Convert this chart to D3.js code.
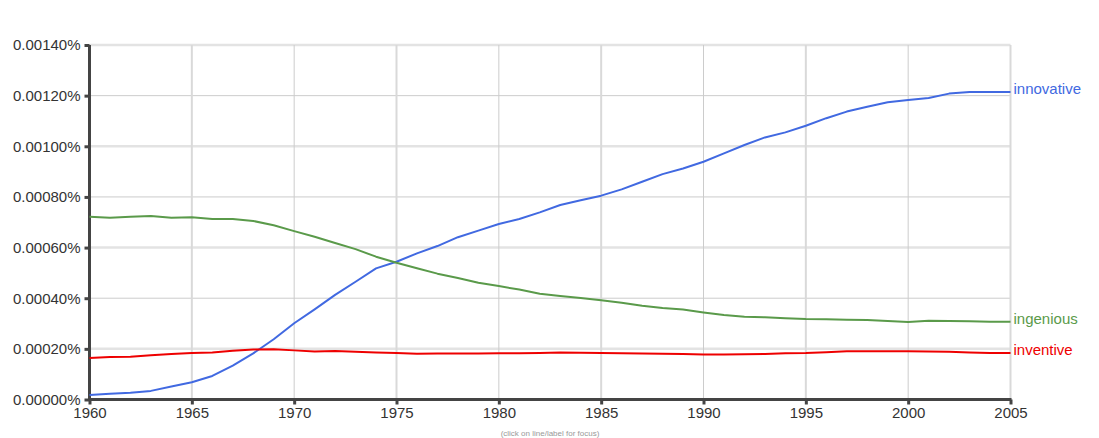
<!DOCTYPE html>
<html><head><meta charset="utf-8">
<script src="https://cdn.jsdelivr.net/npm/d3@7"></script>
<style>body{margin:0;background:#fff;}svg{display:block;font-family:"Liberation Sans",Arial,Helvetica,sans-serif;}</style>
</head><body><svg id="c" width="1099" height="438"></svg>
<script>
const years = d3.range(1960, 2006);
// values in units of 1e-5 percent (e.g. 120 = 0.00120%)
const innovative = [1.8,2.3,2.7,3.4,5.1,6.8,9.3,13.4,18.2,23.8,30.1,35.6,41.3,46.5,51.8,54.4,57.7,60.6,64.1,66.7,69.3,71.3,73.9,76.8,78.7,80.5,83.0,86.0,89.0,91.2,93.9,97.2,100.5,103.5,105.5,108.1,111.1,113.7,115.6,117.4,118.3,119.1,120.8,121.4,121.4,121.4];
const ingenious = [72.2,71.8,72.2,72.5,71.8,72.0,71.3,71.3,70.5,68.8,66.5,64.3,61.8,59.4,56.4,54.0,51.8,49.7,48.0,46.1,44.8,43.4,41.8,40.9,40.1,39.2,38.2,37.0,36.1,35.5,34.4,33.4,32.7,32.5,32.1,31.8,31.7,31.5,31.4,31.0,30.6,31.1,31.0,30.9,30.7,30.7];
const inventive = [16.4,16.8,16.9,17.5,18.0,18.4,18.6,19.3,19.7,19.8,19.4,19.0,19.2,18.9,18.6,18.4,18.1,18.2,18.2,18.2,18.3,18.3,18.4,18.6,18.5,18.4,18.3,18.2,18.1,18.0,17.8,17.8,17.9,18.0,18.3,18.4,18.7,19.1,19.1,19.1,19.1,19.0,18.9,18.6,18.4,18.4];
const seriesNames = ["innovative","ingenious","inventive"];
const seriesColors = ["#4169e1","#5a9a4a","#ee0000"];
const yTicks = [0,20,40,60,80,100,120,140];
const xTicks = [1960,1965,1970,1975,1980,1985,1990,1995,2000,2005];
const footnote = "(click on line/label for focus)";

const svg = d3.select("#c");
const L = 89.5, R = 1010.5, T = 45, B = 399.5;
const x = d3.scaleLinear().domain([1960,2005]).range([L,R]);
const y = d3.scaleLinear().domain([0,140]).range([B,T]);
const fmt = v => (v/1e5).toFixed(5) + "%";

// horizontal grid
svg.append("g").selectAll("line").data(yTicks.filter(d=>d>0)).join("line")
  .attr("x1",L).attr("x2",R).attr("y1",d=>y(d)).attr("y2",d=>y(d))
  .attr("stroke",d=>(d/20)%2===1?"#e3e3e3":"#cccccc")
  .attr("stroke-width",d=>(d/20)%2===1?2.5:1);
// vertical grid
svg.append("g").selectAll("line").data(xTicks.filter(d=>d>1960)).join("line")
  .attr("x1",d=>x(d)).attr("x2",d=>x(d)).attr("y1",T).attr("y2",B)
  .attr("stroke",d=>(d%10===5)?"#d9d9d9":"#cccccc")
  .attr("stroke-width",d=>(d%10===5)?2:1);

// axes
const yAxis = d3.axisLeft(y).tickValues(yTicks).tickFormat(fmt).tickSize(5).tickPadding(4);
const gy = svg.append("g").attr("transform",`translate(${L},0)`).call(yAxis);
const xAxis = d3.axisBottom(x).tickValues(xTicks).tickFormat(d3.format("d")).tickSize(5).tickPadding(3);
const gx = svg.append("g").attr("transform",`translate(0,${B})`).call(xAxis);
[gy,gx].forEach(g=>{
  g.attr("font-size",null).attr("font-family",null);
  g.select(".domain").attr("stroke","#444").attr("stroke-width",3);
  g.selectAll(".tick line").attr("stroke","#444").attr("stroke-width",3);
  g.selectAll("text").attr("fill","#333").style("font-size","15px").style("font-family","'Liberation Sans',Arial,sans-serif");
});
gy.select(".domain").attr("d",`M0,${T}V${B+1.5}`);
gx.select(".domain").attr("d",`M${L-1.5},0H${R+1}`);

// lines
const data = [innovative, ingenious, inventive];
const line = d3.line().x((d,i)=>x(years[i])).y(d=>y(d));
svg.append("g").selectAll("path").data(data).join("path")
  .attr("d",line).attr("fill","none")
  .attr("stroke",(d,i)=>seriesColors[i]).attr("stroke-width",2)
  .attr("stroke-linejoin","round");

// labels
svg.append("g").selectAll("text").data(data).join("text")
  .attr("x",R+3).attr("y",d=>y(d[d.length-1])).attr("dy","0.12em")
  .attr("fill",(d,i)=>seriesColors[i]).style("font-size","15px")
  .text((d,i)=>seriesNames[i]);

// footnote (mostly below the visible area in the reference)
svg.append("text").attr("x",550).attr("y",436).attr("text-anchor","middle")
  .attr("fill","#999").style("font-size","8px").text(footnote);
</script></body></html>
